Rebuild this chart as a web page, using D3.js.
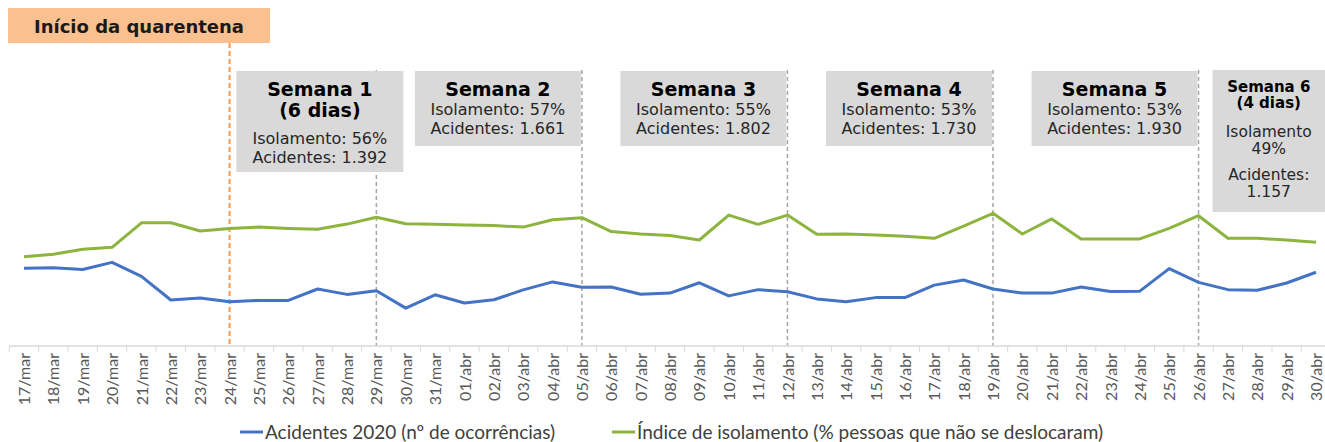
<!DOCTYPE html>
<html>
<head>
<meta charset="utf-8">
<script src="https://cdn.jsdelivr.net/npm/d3@7"></script>
<style>
  body { margin: 0; background: #fff; }
  svg { display: block; }
</style>
</head>
<body>
<script>
//chart size
var w = 1325, h = 442;

//days on the category axis
var dias = ["17/mar","18/mar","19/mar","20/mar","21/mar","22/mar","23/mar","24/mar","25/mar","26/mar",
    "27/mar","28/mar","29/mar","30/mar","31/mar","01/abr","02/abr","03/abr","04/abr","05/abr",
    "06/abr","07/abr","08/abr","09/abr","10/abr","11/abr","12/abr","13/abr","14/abr","15/abr",
    "16/abr","17/abr","18/abr","19/abr","20/abr","21/abr","22/abr","23/abr","24/abr","25/abr",
    "26/abr","27/abr","28/abr","29/abr","30/abr"];

//accidents per day (primary axis)
var acidentes = [361, 364, 356, 389, 324, 214, 223, 206, 212, 212,
    265, 240, 257, 176, 238, 200, 215, 261, 298, 273,
    274, 241, 246, 294, 233, 262, 252, 219, 206, 225,
    225, 283, 307, 265, 246, 246, 274, 253, 255, 360,
    296, 262, 259, 293, 343];

//isolation index in % (secondary axis)
var isolamento = [41.5, 42.7, 45.0, 45.9, 57.3, 57.3, 53.5, 54.7, 55.3, 54.7,
    54.3, 56.7, 59.9, 56.9, 56.6, 56.3, 56.0, 55.3, 58.7, 59.7,
    53.2, 52.1, 51.4, 49.3, 60.9, 56.6, 60.9, 52.0, 52.1, 51.6,
    51.0, 50.1, 55.8, 61.7, 52.1, 59.1, 49.8, 49.8, 49.8, 54.7,
    60.6, 50.1, 50.1, 49.3, 48.2];

//week annotations
var semanas = ["Semana 1", "Semana 2", "Semana 3", "Semana 4", "Semana 5", "Semana 6"];
var semanaFim = ["29/mar", "05/abr", "12/abr", "19/abr", "26/abr", "30/abr"];
var semanaIso = ["56%", "57%", "55%", "53%", "53%", "49%"];
var semanaAcid = ["1.392", "1.661", "1.802", "1.730", "1.930", "1.157"];

var inicio = "24/mar";

var series = [
    { nome: "Acidentes 2020 (nº de ocorrências)", valores: acidentes, cor: "#4472c4" },
    { nome: "Índice de isolamento (% pessoas que não se deslocaram)", valores: isolamento, cor: "#8db43e" }
];

var svg = d3.select("body")
    .append("svg")
    .attr("width", w)
    .attr("height", h);

var baseY = 346;

//scales
var x = d3.scalePoint()
    .domain(dias)
    .range([24, 1316]);
var step = x.step();

var yAcid = d3.scaleLinear()
    .domain([0, 1500])
    .range([baseY, baseY - 1500 / 4.65]);

var yIso = d3.scaleLinear()
    .domain([0, 150])
    .range([baseY, baseY - 150 * 2.15]);

//week separators (grey dashed)
svg.selectAll(".sep")
    .data(semanaFim.slice(0, 5))
    .enter()
    .append("line")
    .attr("class", "sep")
    .attr("x1", function(d){ return x(d); })
    .attr("x2", function(d){ return x(d); })
    .attr("y1", 70)
    .attr("y2", baseY)
    .style("stroke", "#a6a6a6")
    .style("stroke-width", 1.5)
    .style("stroke-dasharray", "4,3");

//quarantine start line
svg.append("line")
    .attr("x1", x(inicio))
    .attr("x2", x(inicio))
    .attr("y1", 43)
    .attr("y2", baseY)
    .style("stroke", "#f79646")
    .style("stroke-width", 2)
    .style("stroke-dasharray", "5,3");

//quarantine label
svg.append("rect")
    .attr("x", 8)
    .attr("y", 8)
    .attr("width", 262)
    .attr("height", 35)
    .style("fill", "#fac090");

svg.append("text")
    .attr("x", 139)
    .attr("y", 33)
    .attr("text-anchor", "middle")
    .style("font-family", "DejaVu Sans")
    .style("font-weight", "bold")
    .style("font-size", "18px")
    .style("fill", "#1a1a1a")
    .text("Início da quarentena");

//week boxes
var boxes = semanas.map(function(s, i){
    var fim = x(semanaFim[i]);
    var b = { i: i };
    if (i == 0) {
        b.x0 = fim - 140; b.x1 = fim + 27; b.y0 = 71; b.y1 = 172;
    } else if (i == 5) {
        b.x0 = x(semanaFim[4]) + 14; b.x1 = w; b.y0 = 70; b.y1 = 212;
    } else {
        b.x0 = fim - 167; b.x1 = fim - 1; b.y0 = 71; b.y1 = 146;
    }
    return b;
});

svg.selectAll(".box")
    .data(boxes)
    .enter()
    .append("rect")
    .attr("class", "box")
    .attr("x", function(d){ return d.x0; })
    .attr("y", function(d){ return d.y0; })
    .attr("width", function(d){ return d.x1 - d.x0; })
    .attr("height", function(d){ return d.y1 - d.y0; })
    .style("fill", "#d9d9d9");

boxes.forEach(function(b){
    var i = b.i, cx = (b.x0 + b.x1) / 2;
    var linhas;
    if (i == 0) {
        linhas = [
            [semanas[i], 96, true, 19], ["(6 dias)", 117, true, 19],
            ["Isolamento: " + semanaIso[i], 144, false, 16], ["Acidentes: " + semanaAcid[i], 163, false, 16]
        ];
    } else if (i == 5) {
        linhas = [
            [semanas[i], 92, true, 15], ["(4 dias)", 108, true, 15],
            ["Isolamento", 137, false, 15.5], [semanaIso[i], 154, false, 15.5],
            ["Acidentes:", 180, false, 15.5], [semanaAcid[i], 197, false, 15.5]
        ];
    } else {
        linhas = [
            [semanas[i], 96, true, 19],
            ["Isolamento: " + semanaIso[i], 115, false, 16], ["Acidentes: " + semanaAcid[i], 134, false, 16]
        ];
    }
    linhas.forEach(function(l){
        svg.append("text")
            .attr("x", cx)
            .attr("y", l[1])
            .attr("text-anchor", "middle")
            .style("font-family", "DejaVu Sans")
            .style("font-weight", l[2] ? "bold" : "normal")
            .style("font-size", l[3] + "px")
            .style("fill", l[2] ? "#000" : "#262626")
            .text(l[0]);
    });
});

//lines
var linhaAcid = d3.line()
    .x(function(d, i){ return x(dias[i]); })
    .y(function(d){ return yAcid(d); });

var linhaIso = d3.line()
    .x(function(d, i){ return x(dias[i]); })
    .y(function(d){ return yIso(d); });

svg.append("path")
    .datum(isolamento)
    .attr("d", linhaIso)
    .style("fill", "none")
    .style("stroke", series[1].cor)
    .style("stroke-width", 3)
    .style("stroke-linejoin", "round");

svg.append("path")
    .datum(acidentes)
    .attr("d", linhaAcid)
    .style("fill", "none")
    .style("stroke", series[0].cor)
    .style("stroke-width", 3)
    .style("stroke-linejoin", "round");

//category axis
var xAxis = d3.axisBottom(x).tickSize(0).tickPadding(0);

var axis = svg.append("g")
    .attr("transform", "translate(0," + baseY + ")")
    .call(xAxis);

axis.select(".domain").remove();
axis.append("line")
    .attr("x1", x(dias[0]) - step / 2)
    .attr("x2", w)
    .style("stroke", "#d9d9d9")
    .style("stroke-width", 1.5);

axis.selectAll(".between")
    .data(dias)
    .enter()
    .append("line")
    .attr("class", "between")
    .attr("x1", function(d){ return x(d) - step / 2; })
    .attr("x2", function(d){ return x(d) - step / 2; })
    .attr("y2", 6)
    .style("stroke", "#d9d9d9");

axis.selectAll(".tick text")
    .attr("transform", "rotate(-90)")
    .attr("text-anchor", "end")
    .attr("x", -7)
    .attr("y", 0)
    .attr("dy", "0.35em")
    .style("font-family", "Lato")
    .style("font-size", "16px")
    .style("fill", "#595959");

//legend
var legX = [240, 612];
var legend = svg.selectAll(".leg")
    .data(series)
    .enter()
    .append("g")
    .attr("class", "leg")
    .attr("transform", function(d, i){ return "translate(" + legX[i] + ",432)"; });

legend.append("line")
    .attr("x1", 0)
    .attr("x2", 23)
    .style("stroke", function(d){ return d.cor; })
    .style("stroke-width", 3);

legend.append("text")
    .attr("x", 25)
    .attr("dy", "0.35em")
    .style("font-family", "Lato")
    .style("font-size", "19px")
    .style("fill", "#404040")
    .text(function(d){ return d.nome; });
</script>
</body>
</html>
